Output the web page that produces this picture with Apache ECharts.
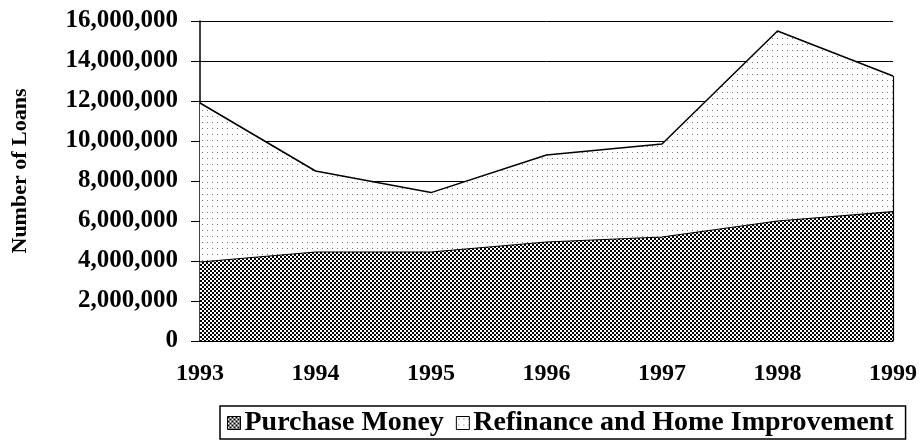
<!DOCTYPE html>
<html>
<head>
<meta charset="utf-8">
<script src="https://cdn.jsdelivr.net/npm/echarts@6/dist/echarts.min.js"></script>
<style>
html,body{margin:0;padding:0;background:#fff;}
#chart{width:924px;height:444px;}
</style>
</head>
<body>
<div id="chart"></div>
<script>
var years = ['1993', '1994', '1995', '1996', '1997', '1998', '1999'];
var purchaseMoney = [3950000, 4450000, 4450000, 4950000, 5200000, 6000000, 6470000];
var refinanceHome = [7950000, 4050000, 2970000, 4350000, 4650000, 9500000, 6780000];
var yTicks = [0, 2000000, 4000000, 6000000, 8000000, 10000000, 12000000, 14000000, 16000000];
var yTitle = 'Number of Loans';

function makePattern(w, h, draw) {
  var c = document.createElement('canvas');
  c.width = w; c.height = h;
  var ctx = c.getContext('2d');
  ctx.fillStyle = '#fff';
  ctx.fillRect(0, 0, w, h);
  draw(ctx);
  return { image: c, repeat: 'repeat' };
}
var purchasePattern = makePattern(4, 4, function (ctx) {
  ctx.fillStyle = '#000';
  ctx.fillRect(0, 0, 2, 2);
  ctx.fillRect(2, 2, 2, 2);
});
var refinancePattern = makePattern(5, 6, function (ctx) {
  ctx.fillStyle = '#777';
  ctx.fillRect(2, 2, 1, 1);
});

var font = '"Liberation Serif", "Times New Roman", serif';
var chart = echarts.init(document.getElementById('chart'), null, { renderer: 'canvas' });
var lastTotal = purchaseMoney[purchaseMoney.length - 1] + refinanceHome[refinanceHome.length - 1];

chart.setOption({
  animation: false,
  backgroundColor: '#fff',
  grid: { left: 200, right: 31, top: 21, bottom: 103 },
  graphic: [{
    type: 'text',
    x: 20,
    y: 171,
    rotation: Math.PI / 2,
    style: {
      text: yTitle,
      fill: '#000',
      font: 'bold 22px ' + font,
      align: 'center',
      verticalAlign: 'middle'
    }
  }],
  xAxis: {
    type: 'category',
    data: years,
    boundaryGap: false,
    axisLine: { lineStyle: { color: '#000', width: 1.5 } },
    axisTick: { show: false },
    axisLabel: { color: '#000', fontFamily: font, fontWeight: 'bold', fontSize: 24, margin: 21 },
    splitLine: { show: false }
  },
  yAxis: {
    type: 'value',
    min: yTicks[0],
    max: yTicks[yTicks.length - 1],
    interval: yTicks[1] - yTicks[0],
    axisLine: { show: true, lineStyle: { color: '#000', width: 1.5 } },
    axisTick: { show: true, length: 9, lineStyle: { color: '#000' } },
    axisLabel: {
      color: '#000', fontFamily: font, fontWeight: 'bold', fontSize: 25, margin: 22,
      formatter: function (v) { return v.toLocaleString('en-US'); }
    },
    splitLine: { show: true, lineStyle: { color: '#000', width: 1 } }
  },
  legend: {
    left: 220,
    top: 406,
    padding: [3, 12, 2, 7],
    borderColor: '#000',
    borderWidth: 1.5,
    itemWidth: 13,
    itemHeight: 13,
    itemGap: 12,
    icon: 'rect',
    textStyle: { color: '#000', fontFamily: font, fontWeight: 'bold', fontSize: 28, padding: [0, 0, 0, -1] },
    data: [
      { name: 'Purchase Money', itemStyle: { color: purchasePattern, borderColor: '#000', borderWidth: 1 } },
      { name: 'Refinance and Home Improvement', itemStyle: { color: refinancePattern, borderColor: '#000', borderWidth: 1 } }
    ]
  },
  series: [
    {
      name: 'Purchase Money',
      type: 'line',
      stack: 'total',
      data: purchaseMoney,
      symbol: 'none',
      color: '#000',
      lineStyle: { color: '#000', width: 1.2 },
      areaStyle: { color: purchasePattern, opacity: 1 },
      z: 3
    },
    {
      name: 'Refinance and Home Improvement',
      type: 'line',
      stack: 'total',
      data: refinanceHome,
      symbol: 'none',
      color: '#000',
      lineStyle: { color: '#000', width: 1.5 },
      areaStyle: { color: refinancePattern, opacity: 1 },
      z: 2,
      markLine: {
        silent: true,
        symbol: 'none',
        label: { show: false },
        lineStyle: { color: '#000', width: 1.2, type: 'solid' },
        data: [[{ coord: [years[years.length - 1], 0] }, { coord: [years[years.length - 1], lastTotal] }]]
      }
    }
  ]
});
</script>
</body>
</html>
